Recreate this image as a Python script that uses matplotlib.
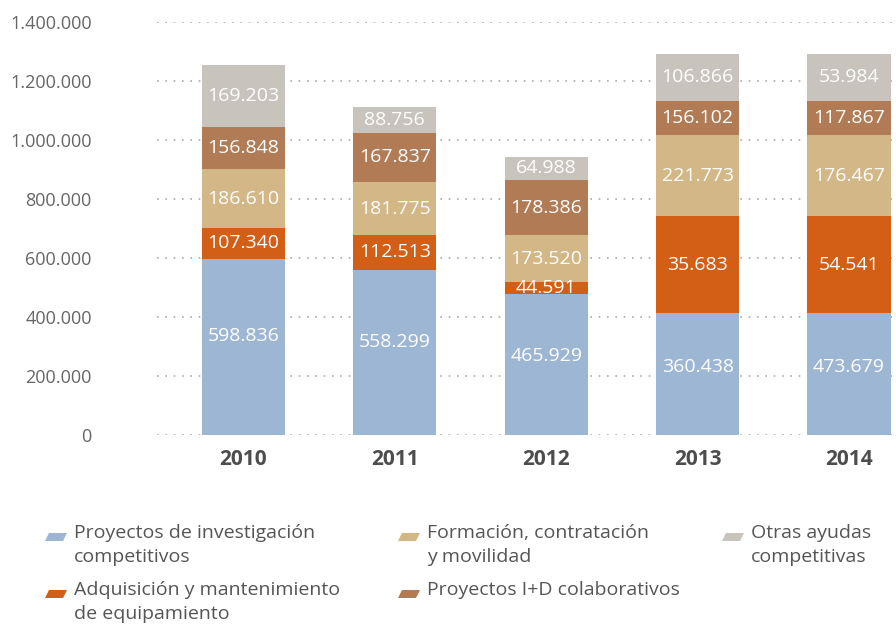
import matplotlib
matplotlib.use("Agg")
import matplotlib.pyplot as plt
from matplotlib.patches import Polygon
from matplotlib.ticker import FuncFormatter

plt.rcParams['font.family'] = ['Open Sans', 'DejaVu Sans']

years = ["2010", "2011", "2012", "2013", "2014"]
series = ["Proyectos de investigación\ncompetitivos",
          "Adquisición y mantenimiento\nde equipamiento",
          "Formación, contratación\ny movilidad",
          "Proyectos I+D colaborativos",
          "Otras ayudas\ncompetitivas"]
colors = ["#9DB6D4", "#D35E16", "#D3B786", "#B07B55", "#C8C3BC"]

# segment heights as drawn in the picture
proyectos = [597000, 560000, 478000, 413000, 413000]
adquisicion = [104000, 117000, 40000, 329000, 329000]
formacion = [200000, 180000, 159000, 274000, 274000]
colaborativos = [142000, 166000, 187000, 115000, 115000]
otras = [210000, 88000, 78000, 160000, 160000]
heights = [proyectos, adquisicion, formacion, colaborativos, otras]

# printed labels
lab_proyectos = ["598.836", "558.299", "465.929", "360.438", "473.679"]
lab_adquisicion = ["107.340", "112.513", "44.591", "35.683", "54.541"]
lab_formacion = ["186.610", "181.775", "173.520", "221.773", "176.467"]
lab_colaborativos = ["156.848", "167.837", "178.386", "156.102", "117.867"]
lab_otras = ["169.203", "88.756", "64.988", "106.866", "53.984"]
labels = [lab_proyectos, lab_adquisicion, lab_formacion, lab_colaborativos, lab_otras]

yticks = [0, 200000, 400000, 600000, 800000, 1000000, 1200000, 1400000]

W, H = 896, 627
fig = plt.figure(figsize=(W / 100, H / 100), dpi=100)
ax = fig.add_axes([157 / W, (H - 435) / H, (896 - 157) / W, (435 - 21.7) / H])

x = list(range(len(years)))
bottom = [0] * len(years)
for si, (vals, labs, c) in enumerate(zip(heights, labels, colors)):
    ax.bar(x, vals, bottom=bottom, width=0.55, color=c, zorder=3, linewidth=0)
    for xi, v, b, t in zip(x, vals, bottom, labs):
        # first series label sits a little above the segment centre
        ypos = b + v * (0.56 if si == 0 else 0.5)
        ax.text(xi, ypos, t, ha='center', va='center', color='white',
                fontsize=14, zorder=4)
    bottom = [b + v for b, v in zip(bottom, vals)]

ax.set_xlim(-0.57, 4.31)
ax.set_ylim(0, 1400000)
ax.set_yticks(yticks)
ax.yaxis.set_major_formatter(FuncFormatter(lambda v, p: f"{int(v):,}".replace(",", ".")))
ax.set_xticks(x)
ax.set_xticklabels(years, fontsize=15, fontweight='bold', color='#4d4d4d')
ax.tick_params(axis='y', length=0, pad=47, labelsize=13, labelcolor='#666666')
ax.tick_params(axis='x', length=0, pad=10)
for lab in ax.get_yticklabels():
    lab.set_ha('right')
ax.grid(axis='y', color='#aaaaaa', linestyle=(0, (1, 4)), linewidth=1.2, zorder=1)
ax.grid(axis='x', visible=False)
for s in ax.spines.values():
    s.set_visible(False)

# legend
def fx(px):
    return px / W

def fy(py):
    return 1 - py / H

legend_pos = [(45, 534), (45, 591), (398, 534), (398, 591), (722, 534)]
for (px, py), name, c in zip(legend_pos, series, colors):
    pw, ph, sk = 18, 8, 4
    yb = py + 7
    pts = [(fx(px), fy(yb)), (fx(px + pw), fy(yb)),
           (fx(px + pw + sk), fy(yb - ph)), (fx(px + sk), fy(yb - ph))]
    fig.patches.append(Polygon(pts, closed=True, transform=fig.transFigure,
                               facecolor=c, edgecolor='none'))
    fig.text(fx(px + 29), fy(py - 10), name, ha='left', va='top',
             fontsize=14, color='#555555', linespacing=1.42)

fig.savefig("out.png", dpi=100)
